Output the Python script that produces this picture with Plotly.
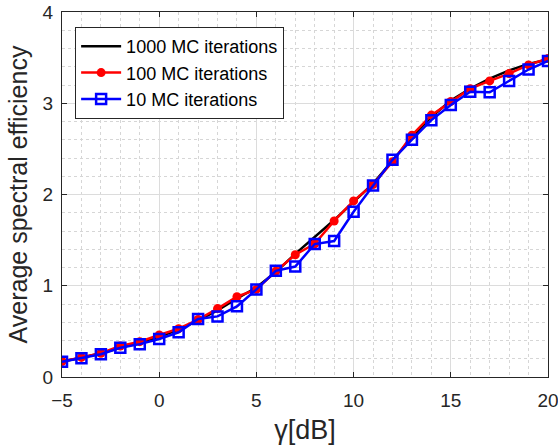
import plotly.graph_objects as go

gamma_db = list(range(-5, 21))
se_1000 = [0.17, 0.21, 0.26, 0.32, 0.38, 0.44, 0.52, 0.62, 0.73, 0.86, 0.98, 1.15, 1.35, 1.53, 1.72, 1.92, 2.12, 2.37, 2.63, 2.85, 3.03, 3.16, 3.27, 3.36, 3.43, 3.48]
se_100 = [0.17, 0.215, 0.26, 0.34, 0.387, 0.46, 0.53, 0.63, 0.75, 0.88, 0.96, 1.16, 1.34, 1.46, 1.71, 1.93, 2.11, 2.36, 2.65, 2.87, 3.02, 3.16, 3.245, 3.325, 3.42, 3.49]
se_10 = [0.168, 0.205, 0.25, 0.32, 0.36, 0.416, 0.49, 0.635, 0.664, 0.774, 0.96, 1.164, 1.21, 1.457, 1.49, 1.81, 2.10, 2.38, 2.60, 2.815, 2.98, 3.125, 3.12, 3.245, 3.37, 3.464]

x_ticks = [-5, 0, 5, 10, 15, 20]
y_ticks = [0, 1, 2, 3, 4]

FONT = "Liberation Sans, Arial, Helvetica"
INK = "#262626"

fig = go.Figure()
fig.add_trace(go.Scatter(x=gamma_db, y=se_1000, mode="lines", name="1000 MC iterations",
                         line=dict(color="black", width=2.5)))
fig.add_trace(go.Scatter(x=gamma_db, y=se_100, mode="lines+markers", name="100 MC iterations",
                         line=dict(color="red", width=2.5),
                         marker=dict(symbol="circle", size=9, color="red")))
fig.add_trace(go.Scatter(x=gamma_db, y=se_10, mode="lines+markers", name="10 MC iterations",
                         line=dict(color="blue", width=2.5),
                         marker=dict(symbol="square-open", size=10, color="blue", line=dict(width=2.5, color="blue"))))

axis_common = dict(
    showline=True, linecolor=INK, linewidth=1, mirror="allticks",
    ticks="inside", ticklen=5, tickcolor=INK,
    showgrid=True, gridcolor="#dcdcdc", gridwidth=1,
    zeroline=False, automargin=False, ticklabeloverflow="allow",
    tickfont=dict(family=FONT, size=19, color=INK),
)

fig.update_xaxes(range=[-5, 20], tickvals=x_ticks, ticklabelstandoff=6,
                 title=dict(text="γ[dB]", font=dict(family=FONT, size=27, color=INK), standoff=10),
                 minor=dict(dtick=1, showgrid=True, gridcolor="#d6d6d6", griddash="dot", gridwidth=1, ticks=""),
                 **axis_common)
fig.update_yaxes(range=[0, 4], tickvals=y_ticks, ticklabelstandoff=4,
                 title=dict(text="Average spectral efficiency", font=dict(family=FONT, size=25, color=INK), standoff=7),
                 minor=dict(dtick=0.2, showgrid=True, gridcolor="#d6d6d6", griddash="dot", gridwidth=1, ticks=""),
                 **axis_common)

fig.update_layout(
    width=558, height=447,
    margin=dict(l=62, r=10, t=12, b=70),
    plot_bgcolor="white", paper_bgcolor="white",
    legend=dict(x=0.027, y=0.959, xanchor="left", yanchor="top",
                bgcolor="white", bordercolor=INK, borderwidth=1,
                font=dict(family=FONT, size=18, color="black"),
                tracegroupgap=0, itemwidth=40),
    showlegend=True,
)

fig.write_html("out.html")
